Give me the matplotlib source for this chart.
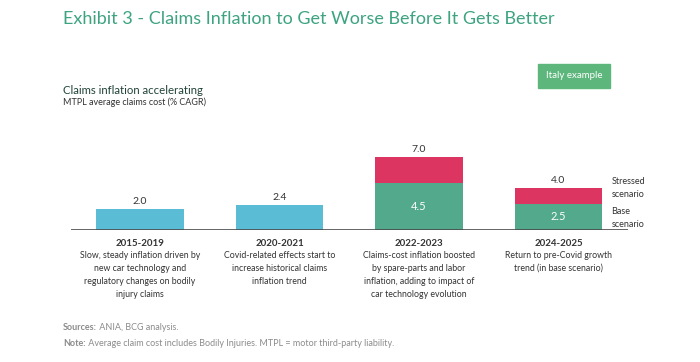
import matplotlib
matplotlib.use("Agg")
import matplotlib.pyplot as plt
from matplotlib.patches import Rectangle

plt.rcParams['font.family'] = ['Lato', 'DejaVu Sans']

periods = ['2015-2019', '2020-2021', '2022-2023', '2024-2025']
historical = [2.0, 2.4, 0, 0]
base = [0, 0, 4.5, 2.5]
stressed = [0, 0, 7.0, 4.0]
notes = [
    "Slow, steady inflation driven by\nnew car technology and\nregulatory changes on bodily\ninjury claims",
    "Covid-related effects start to\nincrease historical claims\ninflation trend",
    "Claims-cost inflation boosted\nby spare-parts and labor\ninflation, adding to impact of\ncar technology evolution",
    "Return to pre-Covid growth\ntrend (in base scenario)",
]

c_blue = '#5bbdd5'
c_green = '#52a98c'
c_red = '#dc3562'
c_title = '#3da47f'
c_text = '#333333'
c_grey = '#8c8c8c'

W, H = 700, 362
fig = plt.figure(figsize=(W / 100, H / 100), dpi=100)
ax = fig.add_axes([71 / W, 132 / H, 557 / W, 84 / H])
ax.set_xlim(-0.495, 3.498)
ax.set_ylim(0, 8)
ax.axis('off')
ppu = 10.5  # pixels per unit on y

x = range(len(periods))
w = 0.625
ax.bar(x, historical, width=w, color=c_blue)
ax.bar(x, stressed, width=w, color=c_red)
ax.bar(x, base, width=w, color=c_green)
ax.axhline(0, color='#4a4a4a', linewidth=1.2)

for i in x:
    top = max(historical[i], stressed[i])
    ax.text(i, top + 3 / ppu, f"{top:.1f}", ha='center', va='bottom',
            fontsize=7.5, color=c_text)
    if base[i]:
        ax.text(i, base[i] / 2, f"{base[i]:.1f}", ha='center', va='center',
                fontsize=8, color='white')
    ax.text(i, -13 / ppu, periods[i], ha='center', va='center',
            fontsize=7, fontweight='bold', color=c_text)
    ax.text(i, -21 / ppu, notes[i], ha='center', va='top', fontsize=6.3,
            color=c_text, linespacing=1.55)

ax.text(3.38, 42 / ppu, "Stressed\nscenario", ha='left', va='center',
        fontsize=6.5, color=c_text, linespacing=1.5)
ax.text(3.38, 12 / ppu, "Base\nscenario", ha='left', va='center',
        fontsize=6.5, color=c_text, linespacing=1.5)

# header
fig.text(63 / W, 1 - 19 / H, "Exhibit 3 - Claims Inflation to Get Worse Before It Gets Better",
         fontsize=13, color=c_title, va='center', ha='left')
fig.patches.append(Rectangle((538 / W, 1 - 88 / H), 72 / W, 24 / H,
                             transform=fig.transFigure, color='#5db67c'))
fig.text(574 / W, 1 - 76 / H, "Italy example", fontsize=7, color='white',
         ha='center', va='center')
fig.text(63 / W, 1 - 90 / H, "Claims inflation accelerating", fontsize=8.2,
         color='#22443a', va='center')
fig.text(63 / W, 1 - 102 / H, "MTPL average claims cost (% CAGR)", fontsize=6.5,
         color=c_text, va='center')

# footnotes
fig.canvas.draw()
r = fig.canvas.get_renderer()
for y, bold, rest in [(327, "Sources:", " ANIA, BCG analysis."),
                      (343, "Note:", " Average claim cost includes Bodily Injuries. MTPL = motor third-party liability.")]:
    t = fig.text(63 / W, 1 - y / H, bold, fontsize=6.5, fontweight='bold',
                 color=c_grey, va='center')
    bb = t.get_window_extent(r)
    fig.text(bb.x1 / W, 1 - y / H, rest, fontsize=6.5, color=c_grey, va='center')

fig.savefig('out.png', dpi=100)
